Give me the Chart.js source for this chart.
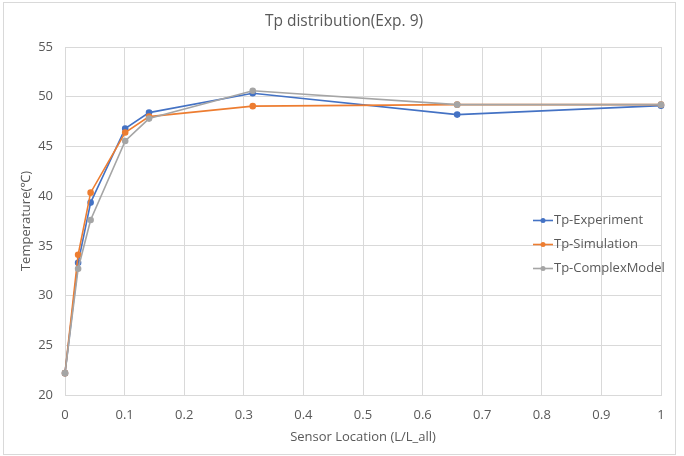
<!DOCTYPE html>
<html><head><meta charset="utf-8">
<script src="https://cdn.jsdelivr.net/npm/chart.js@4"></script>
<style>html,body{margin:0;padding:0;background:#fff}canvas{display:block}</style>
</head><body>
<canvas id="c" width="684" height="456"></canvas>
<script>
const xPositions = [0, 0.022, 0.043, 0.101, 0.141, 0.315, 0.658, 1];
const tpExperiment = [22.2, 33.3, 39.35, 46.8, 48.4, 50.35, 48.2, 49.1];
const tpSimulation = [22.2, 34.1, 40.35, 46.4, 48.0, 49.05, 49.2, 49.2];
const tpComplexModel = [22.2, 32.7, 37.6, 45.55, 47.8, 50.6, 49.2, 49.2];
const seriesNames = ['Tp-Experiment', 'Tp-Simulation', 'Tp-ComplexModel'];
const seriesColors = ['#4472C4', '#ED7D31', '#A5A5A5'];
const titleText = 'Tp distribution(Exp. 9)';
const xTitle = 'Sensor Location (L/L_all)';
const yTitle = 'Temperature(℃)';

const FONT = '"Open Sans", "Noto Sans", sans-serif';
const TXT = '#595959';
const allSeries = [tpExperiment, tpSimulation, tpComplexModel];
const datasets = allSeries.map((vals, i) => ({
  label: seriesNames[i],
  data: vals.map((v, j) => ({x: xPositions[j], y: v})),
  borderColor: seriesColors[i],
  backgroundColor: seriesColors[i],
  borderWidth: 1.6,
  pointRadius: 2.5,
  pointHoverRadius: 2.5,
  showLine: true,
  tension: 0,
  clip: false,
  order: 3 - i
}));

const decor = {
  id: 'decor',
  afterDraw(chart) {
    const ctx = chart.ctx;
    ctx.save();
    ctx.strokeStyle = '#D9D9D9';
    ctx.lineWidth = 1;
    ctx.strokeRect(3.5, 2.5, 672, 452);
    ctx.fillStyle = TXT;
    ctx.font = '15.5px ' + FONT;
    ctx.textAlign = 'center';
    ctx.textBaseline = 'middle';
    ctx.fillText(titleText, 344, 22);
    ctx.font = '13px ' + FONT;
    ctx.textAlign = 'left';
    const ys = [220.5, 244.5, 268.5];
    chart.data.datasets.forEach((ds, i) => {
      const y = ys[i];
      ctx.strokeStyle = ds.borderColor;
      ctx.lineWidth = 1.6;
      ctx.beginPath(); ctx.moveTo(533, y); ctx.lineTo(553, y); ctx.stroke();
      ctx.fillStyle = ds.borderColor;
      ctx.beginPath(); ctx.arc(543, y, 2.5, 0, Math.PI * 2); ctx.fill();
      ctx.fillStyle = TXT;
      ctx.fillText(ds.label, 554, y);
    });
    ctx.restore();
  }
};

new Chart(document.getElementById('c'), {
  type: 'scatter',
  data: {datasets},
  options: {
    responsive: false,
    animation: false,
    devicePixelRatio: 1,
    layout: {padding: {left: 5, right: 23, top: 47, bottom: 5}},
    plugins: {legend: {display: false}, title: {display: false}, tooltip: {enabled: false}},
    scales: {
      x: {
        type: 'linear', min: 0, max: 1,
        afterFit(s) { s.height = 56; },
        ticks: {stepSize: 0.1, color: TXT, font: {family: FONT, size: 13}, padding: 12,
          callback: v => String(Math.round(v * 10) / 10)},
        grid: {color: '#D9D9D9', drawTicks: false},
        border: {color: '#D9D9D9'},
        title: {display: true, text: xTitle, color: TXT, font: {family: FONT, size: 13}, padding: {top: 4, bottom: 6}}
      },
      y: {
        type: 'linear', min: 20, max: 55,
        afterFit(s) { s.width = 60; },
        ticks: {stepSize: 5, color: TXT, font: {family: FONT, size: 13}, padding: 12},
        grid: {color: '#D9D9D9', drawTicks: false},
        border: {color: '#D9D9D9'},
        title: {display: true, text: yTitle, color: TXT, font: {family: FONT, size: 13}, padding: {top: 13, bottom: 4}}
      }
    }
  },
  plugins: [decor]
});
</script>
</body></html>
